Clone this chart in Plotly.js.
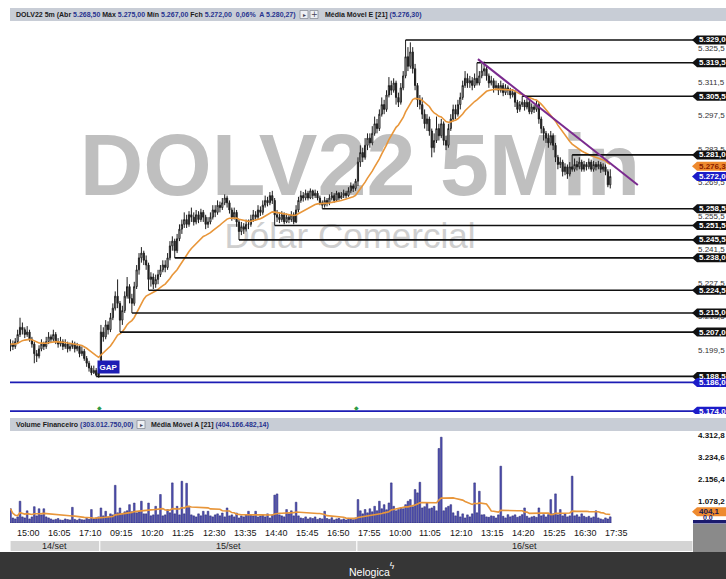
<!DOCTYPE html>
<html><head><meta charset="utf-8">
<script src="https://cdn.plot.ly/plotly-3.0.1.min.js"></script>
<style>html,body{margin:0;padding:0;background:#fff;overflow:hidden}#chart{width:726px;height:579px}</style>
</head><body><div id="chart"></div>
<script>
// ---------- DATA (points, 5-minute bars) ----------
const openP = [
5201,5202,5201,5203,5206,5209,5208,5206,5207,5204,5202,5198,5197,5200,5202,5201,5203,5205,5204,5206,5203,5202,5203,5201,5202,5200,5201,5202,5200,5201,5198,5199,5196,5194,5192,5190,5191,5189,
5193,5207,5205,5210,5208,5213,5217,5222,5219,5212,
5216,5222,5226,5221,5219,5226,5233,5238,5240,5237,
5235,5229,5230,5227,5229,5231,5233,5235,5234,5238,
5243,5245,5241,5246,5250,5252,5254,5252,5256,5255,
5253,5256,5254,5257,5255,5252,5253,5255,5258,5257,
5260,5259,5261,5263,5261,5258,5255,5257,5253,5249,
5251,5250,5252,5252,5254,5256,5255,5258,5257,5260,
5262,5261,5264,5262,5256,5255,5254,5256,5253,5255,
5254,5256,5253,5258,5262,5264,5263,5265,5263,5266,
5264,5265,5263,5261,5260,5262,5261,5263,5264,5262,
5265,5263,5264,5265,5264,5266,5268,5267,
5270,5278,5282,5280,5285,5288,5286,5290,5294,5292,
5298,5302,5300,5306,5310,5308,5311,5305,5303,5309,
5314,5322,5318,5324,5317,5310,5304,5302,5298,5294,
5296,5291,5284,5287,5292,5289,5294,5287,5285,5292,
5296,5300,5298,5302,5305,5310,5313,5311,5312,5310,
5313,5311,5314,5316,5317,5314,5311,5312,5309,5310,
5308,5310,5307,5309,5308,5306,5307,5303,5300,5302,
5303,5301,5303,5299,5301,5300,5302,5296,5292,5290,
5288,5286,5289,5285,5280,5277,5278,5274,5276,5273,
5276,5275,5277,5276,5278,5275,5277,5276,5278,5275,
5277,5276,5277,5275,5276,5274,5268.5];
const highP = [
5204,5203.5,5204.5,5208,5213,5211,5209,5209.5,5208,5205,5203,5199.5,5201.5,5204,5203,5205,5207,5206,5208,5207,5204.5,5205,5204,5204,5203,5202.5,5203.5,5203,5202.5,5201.5,5201,5200,5197,5195,5193,5193,5192,5191.5,
5210,5209,5212,5211.5,5215,5219,5224,5229,5220,5218,
5224,5230,5227,5223,5228,5235,5240,5242.5,5241,5239,
5236,5232,5231.5,5231,5233,5235,5237,5237,5240,5245,
5247,5246,5248,5252,5254,5257,5256,5257.5,5259,5257,
5258,5257.5,5258.5,5258,5256,5255,5257,5260,5260,5262,
5261.5,5263,5264.5,5264,5262,5259,5259,5258,5254,5253,
5252.5,5254,5254,5256,5258,5257.5,5260,5259.5,5262,5264,
5263.5,5265.5,5266,5263,5258,5257,5257.5,5257,5256.5,5256,
5257.5,5257,5260,5263.5,5266,5265.5,5266.5,5266,5267,5266.5,
5266.5,5266,5264,5262,5263.5,5263,5264.5,5265.5,5265,5266,
5265.5,5265.5,5266.5,5266,5267.5,5269.5,5269,5271,
5280,5285,5284,5288,5290,5290,5293,5297,5296,5300,
5305,5304,5308,5313.5,5312,5313,5312,5307,5311,5316,
5329,5326,5328,5326,5319,5311,5306,5305,5300,5298,
5297,5292,5290,5297,5294,5296,5295,5289,5294,5298,
5302,5302,5304,5307,5312,5316,5315,5314,5313.5,5315,
5319.5,5316,5319,5320,5318,5315,5314,5313,5312,5311,
5312,5311,5310.5,5310,5309,5308.5,5308,5304,5303.5,5305.5,
5304,5304.5,5304,5302.5,5302,5303.5,5303,5297,5293,5291,
5290,5291,5290,5286,5281,5280,5279,5277.5,5277,5278,
5281,5279.5,5278.5,5280,5279,5278.5,5278,5279.5,5279,5278.5,
5278,5278.5,5278,5277.5,5277,5275,5275];
const lowP = [
5199,5199.5,5200,5202,5205,5206,5204.5,5205,5203,5200.5,5194,5194.5,5196,5199,5199.5,5200,5202,5202.5,5203,5202,5200.5,5201,5199.5,5200,5198.5,5199,5200,5198.5,5199,5196.5,5197,5195,5192.5,5190.5,5189,5189.5,5188.5,5188.5,
5192,5203,5204,5206,5207,5212,5216,5217,5207,5210,
5215,5221,5219,5215,5218,5225,5231,5236,5235,5233,
5224.5,5226,5225,5225.5,5227,5230,5232,5232,5233,5237,
5241,5238,5240,5245,5248,5250.5,5250.5,5251,5253,5251.5,
5252,5252.5,5253,5253,5250,5250.5,5252,5254,5255,5256,
5257,5258,5260,5259,5256.5,5253.5,5254,5251,5245.5,5247.5,
5248,5249,5250,5251,5253,5253.5,5254,5255.5,5256,5259,
5259.5,5260,5260.5,5251.5,5253,5252.5,5253,5252,5252.5,5252.5,
5253,5252,5252.5,5257,5261,5261.5,5262,5262,5262.5,5262.5,
5263,5262,5260,5258.5,5259,5259.5,5260,5262,5261,5261.5,
5262,5262.5,5263,5263,5263.5,5265,5265.5,5266,
5268,5276,5278,5279,5283,5284,5285,5289,5290,5291,
5297,5298,5299,5305,5306,5307,5302,5301,5302,5308,
5313,5316,5317,5315,5308,5301,5300,5296,5292,5291,
5289,5280,5282,5286,5287,5288,5285,5283,5284,5291,
5295,5296,5297,5300,5304,5309,5309,5309,5308,5309,
5310,5310,5313,5314,5312,5309,5310,5307,5308,5306,
5307,5305.5,5306,5306,5304.5,5305,5301,5298.5,5299,5301,
5299.5,5300,5298,5298,5298.5,5299,5294,5290,5287,5286,
5284,5285,5283,5278,5275,5275.5,5272,5272.5,5271,5272,
5274,5274,5274.5,5275,5274,5274,5274.5,5275,5274,5274,
5274.5,5275,5273.5,5274,5272.5,5267.5,5267];
const closeP = [
5202,5201,5203,5206,5209,5208,5206,5207,5204,5202,5198,5197,5200,5202,5201,5203,5205,5204,5206,5203,5202,5203,5201,5202,5200,5201,5202,5200,5201,5198,5199,5196,5194,5192,5190,5191,5189,5190,
5207,5205,5210,5208,5213,5217,5222,5219,5212,5216,
5222,5226,5221,5219,5226,5233,5238,5240,5237,5235,
5229,5230,5227,5229,5231,5233,5235,5234,5238,5243,
5245,5241,5246,5250,5252,5254,5252,5256,5255,5253,
5256,5254,5257,5255,5252,5253,5255,5258,5257,5260,
5259,5261,5263,5261,5258,5255,5257,5253,5249,5251,
5250,5252,5252,5254,5256,5255,5258,5257,5260,5262,
5261,5264,5262,5256,5255,5254,5256,5253,5255,5254,
5256,5253,5258,5262,5264,5263,5265,5263,5266,5264,
5265,5263,5261,5260,5262,5261,5263,5264,5262,5265,
5263,5264,5265,5264,5266,5268,5267,5270,
5278,5282,5280,5285,5288,5286,5290,5294,5292,5298,
5302,5300,5306,5310,5308,5311,5305,5303,5309,5314,
5322,5318,5324,5317,5310,5304,5302,5298,5294,5296,
5291,5284,5287,5292,5289,5294,5287,5285,5292,5296,
5300,5298,5302,5305,5310,5313,5311,5312,5310,5313,
5311,5314,5316,5317,5314,5311,5312,5309,5310,5308,
5310,5307,5309,5308,5306,5307,5303,5300,5302,5303,
5301,5303,5299,5301,5300,5302,5296,5292,5290,5288,
5286,5289,5285,5280,5277,5278,5274,5276,5273,5276,
5275,5277,5276,5278,5275,5277,5276,5278,5275,5277,
5276,5277,5275,5276,5274,5268.5,5272];
// Volume Financeiro, millions of R$
const volumeM = [
700,250,200,300,1070,300,250,600,200,300,800,350,700,400,700,300,
250,200,150,180,220,150,130,200,170,150,770,180,140,200,160,150,230,180,660,200,
250,300,
740,350,575,300,450,400,1850,500,740,450,550,600,
900,550,980,500,550,1070,450,450,980,350,400,820,400,1400,350,400,660,500,1970,450,820,400,2050,450,1950,820,
400,350,300,450,350,575,400,575,350,300,400,450,350,490,300,740,350,400,300,490,250,350,300,400,575,
400,350,575,300,350,400,300,450,250,400,1370,1430,
400,350,300,660,450,600,350,1020,350,250,220,300,200,260,220,300,180,230,200,575,220,180,260,150,200,230,160,200,150,230,190,160,250,
1150,600,450,660,500,700,550,820,600,1070,
700,900,650,985,1970,820,600,660,750,700,
900,1070,1150,800,1640,1480,2000,740,800,985,
700,740,820,600,3660,4215,600,750,820,900,
500,350,575,300,450,250,400,300,450,1970,
500,1560,400,410,300,280,350,330,250,400,
2790,330,250,410,300,350,400,280,330,410,
740,330,250,300,330,280,740,350,410,300,
410,1150,450,1430,400,660,350,450,300,350,
2300,350,400,300,450,330,280,330,250,300,
600,250,200,165,250,200,303];

const timeTickIdx  = [2,15,28,41,54,67,80,93,106,119,132,145,158,171,184,197,210,223,236,249];
const timeTickText = ['15:00','16:05','17:10','09:15','10:20','11:25','12:30','13:35','14:40','15:45','16:50','17:55','10:00','11:05','12:10','13:15','14:20','15:25','16:30','17:35'];
const dayLabels = ['14/set','15/set','16/set'];
const dayStartIdx = [0,38,146];

const levelPrices = [5329.0,5319.5,5305.5,5281.0,5258.5,5251.5,5245.5,5238.0,5224.5,5215.0,5207.0,5188.5];
const levelStartIdx = [166,196,215,236,131,111,96,69,58,51,46,36];
const blueLevels = [5186.0,5174.0];
const trendX = [196.4,263.6];
const trendY = [5321.0,5268.4];
const priceTicks = [5325.5,5311.5,5297.5,5283.5,5269.5,5255.5,5241.5,5227.5,5213.5,5199.5];
const volTicks = [4312.8,3234.6,2156.4,1078.2];
const maLast = 5276.3, lastPrice = 5272.0, volMaLast = 404.16648214, volLast = 303.01275;

// ---------- helpers ----------
const W = 726, H = 579;
const X = px => px / W;
const Y = py => 1 - py / H;
function fmtBR(v, d){
  const s = v.toFixed(d); const parts = s.split('.');
  const i = parts[0].replace(/\B(?=(\d{3})+(?!\d))/g,'.');
  return parts.length > 1 ? i + ',' + parts[1] : i;
}
const idx = closeP.map((_, i) => i);
// Média Móvel E [21]
const ema = []; const alpha = 2/22;
closeP.forEach((c,i)=>ema.push(i===0 ? c : ema[i-1] + alpha*(c-ema[i-1])));
// Média Móvel A [21]
const volMA = volumeM.map((_,i)=>{const a=volumeM.slice(Math.max(0,i-20),i+1);return a.reduce((p,q)=>p+q,0)/a.length;});

const XR = [-0.21, 286.77];
const YR = [5172.8, 5336.5];
const VR = [0, 4470];
const pxPerPt = (414-22)/(YR[1]-YR[0]);
const pxPerVol = (523-432)/(VR[1]-VR[0]);

const FONT = 'Liberation Sans, Arial, sans-serif';
const BLUE_TXT = '#27338f';

const traces = [
  {type:'candlestick', x:idx, open:openP, high:highP, low:lowP, close:closeP, xaxis:'x', yaxis:'y',
   increasing:{line:{color:'#1e1e1e',width:1}, fillcolor:'#ffffff'},
   decreasing:{line:{color:'#1e1e1e',width:1}, fillcolor:'#1e1e1e'},
   whiskerwidth:0, hoverinfo:'skip', showlegend:false},
  {type:'scatter', mode:'lines', x:idx, y:ema, xaxis:'x', yaxis:'y', line:{color:'#e8963a',width:1.6}, hoverinfo:'skip', showlegend:false},
  {type:'bar', x:idx, y:volumeM, xaxis:'x', yaxis:'y2', width:0.72, marker:{color:'#5252b4', line:{color:'#23236e',width:0.5}}, hoverinfo:'skip', showlegend:false},
  {type:'scatter', mode:'lines', x:idx, y:volMA, xaxis:'x', yaxis:'y2', line:{color:'#e8963a',width:1.6}, hoverinfo:'skip', showlegend:false}
];

const shapes = [];
const ann = [];
const A = o => Object.assign({showarrow:false, xanchor:'center', yanchor:'middle'}, o);

// watermark (below data)
shapes.push({type:'rect', xref:'paper', yref:'paper', x0:X(30), x1:X(690), y0:Y(200), y1:Y(112), line:{width:0}, fillcolor:'rgba(0,0,0,0)', layer:'below',
  label:{text:'DOLV22 5Min', textposition:'middle center', font:{family:FONT, size:88, color:'#bfbfbf', weight:'bold'}}});
shapes.push({type:'rect', xref:'paper', yref:'paper', x0:X(150), x1:X(550), y0:Y(250), y1:Y(214), line:{width:0}, fillcolor:'rgba(0,0,0,0)', layer:'below',
  label:{text:'Dólar Comercial', textposition:'middle center', font:{family:FONT, size:35, color:'#cfcfcf'}}});

// header bars
shapes.push({type:'rect', xref:'paper', yref:'paper', x0:X(10), x1:1, y0:Y(21), y1:Y(8), fillcolor:'#c8cdd6', line:{width:0}});
shapes.push({type:'rect', xref:'paper', yref:'paper', x0:X(10), x1:1, y0:Y(431), y1:Y(418), fillcolor:'#c8cdd6', line:{width:0}});
// small header icons
[[300,308],[310,318]].forEach(([a,b])=>shapes.push({type:'rect', xref:'paper', yref:'paper', x0:X(a), x1:X(b), y0:Y(18.5), y1:Y(10.5), fillcolor:'#eef0f4', line:{color:'#8a8f99',width:0.8}}));
shapes.push({type:'rect', xref:'paper', yref:'paper', x0:X(137), x1:X(145), y0:Y(428.5), y1:Y(420.5), fillcolor:'#eef0f4', line:{color:'#8a8f99',width:0.8}});

// bottom areas
shapes.push({type:'rect', xref:'paper', yref:'paper', x0:0, x1:1, y0:0, y1:Y(552), fillcolor:'#363636', line:{width:0}});
shapes.push({type:'rect', xref:'paper', yref:'paper', x0:X(693), x1:1, y0:Y(552), y1:Y(524), fillcolor:'#8a8a8a', line:{width:0}});
// date band
const dayEnds = dayStartIdx.slice(1).map(v=>v-0.5).concat([XR[1]]);
dayStartIdx.forEach((s,k)=>{
  const x0 = k===0 ? XR[0] : s-0.5, x1 = dayEnds[k];
  shapes.push({type:'rect', xref:'x', yref:'paper', x0:x0+0.25, x1:x1-0.25, y0:Y(551), y1:Y(541), fillcolor:'#d4d4d4', line:{width:0}});
  ann.push(A({xref:'x', yref:'paper', x:(x0+x1)/2, y:Y(546), text:dayLabels[k], font:{family:FONT,size:9,color:'#222'}}));
});
// time labels
timeTickIdx.forEach((t,k)=>ann.push(A({xref:'x', yref:'paper', x:t, y:Y(533), xanchor:'left', text:timeTickText[k], font:{family:FONT,size:9,color:'#151515'}})));

// level lines
levelPrices.forEach((p,k)=>shapes.push({type:'line', xref:'x', yref:'y', x0:levelStartIdx[k], x1:XR[1]+5, y0:p, y1:p, line:{color:'#111',width:1.6}}));
blueLevels.forEach(p=>shapes.push({type:'line', xref:'paper', yref:'y', x0:X(10), x1:X(693), y0:p, y1:p, line:{color:'#1c1cb4',width:1.6}}));
// trendline
shapes.push({type:'line', xref:'x', yref:'y', x0:trendX[0], x1:trendX[1], y0:trendY[0], y1:trendY[1], line:{color:'#7a2a8e',width:2}});
// gap marker
shapes.push({type:'line', xref:'x', yref:'y', x0:dayStartIdx[1]-0.9, x1:dayStartIdx[1]-0.9, y0:levelPrices[11]-0.6, y1:levelPrices[11]+2.4, line:{color:'#111',width:1}});
ann.push(A({xref:'x', yref:'y', x:dayStartIdx[1]-1.6, y:levelPrices[11]+3.9, xanchor:'left', text:'<b>GAP</b>', bgcolor:'#1d1db4', borderpad:1.5, font:{family:FONT,size:8,color:'#fff'}}));
// day separators (green)
dayStartIdx.slice(1).forEach(s=>ann.push(A({xref:'x', yref:'paper', x:s-0.5, y:Y(407), text:'◆', font:{family:'DejaVu Sans',size:6,color:'#2e9a45'}})));

// price tags
function tag(v, yref, halfPx, perPx, bg, txt, txtColor){
  const h = halfPx / perPx;
  shapes.push({type:'path', xref:'paper', yref:yref, path:`M ${X(692)},${v} L ${X(697)},${v+h} L 1,${v+h} L 1,${v-h} L ${X(697)},${v-h} Z`, fillcolor:bg, line:{width:0}, layer:'above'});
  ann.push(A({xref:'paper', yref:yref, x:X(698), y:v, xanchor:'left', text:'<b>'+txt+'</b>', borderpad:0, font:{family:FONT,size:8,color:txtColor}}));
}
levelPrices.forEach(p=>tag(p,'y',4.5,pxPerPt,'#111111',fmtBR(p,1),'#ffffff'));
tag(maLast,'y',4.5,pxPerPt,'#ee8a2e',fmtBR(maLast,1),'#8a1c00');
tag(lastPrice,'y',4.5,pxPerPt,'#1c1cc8',fmtBR(lastPrice,1),'#ffffff');
blueLevels.forEach(p=>tag(p,'y',4.5,pxPerPt,'#1c1cc8',fmtBR(p,1),'#ffffff'));
// volume tags
shapes.push({type:'rect', xref:'paper', yref:'paper', x0:X(693), x1:1, y0:Y(523.5), y1:Y(520), fillcolor:'#1a1a6e', line:{width:0}});
tag(volMaLast+150,'y2',4.5,pxPerVol,'#ee8a2e',fmtBR(Math.floor(volMaLast*10)/10,1),'#1a1a50');
ann.push(A({xref:'paper', yref:'y2', x:X(708), y:0, yanchor:'bottom', text:'<b>0,0</b>', borderpad:0, font:{family:FONT,size:7,color:'#1a1a6e'}}));

// header texts
const b = s => `<span style="color:${BLUE_TXT}">${s}</span>`;
const n = closeP.length-1;
ann.push(A({xref:'paper', yref:'paper', x:X(14), y:Y(14.5), xanchor:'left',
  text:`<b>DOLV22 5m (Abr ${b(fmtBR(openP[n],2))} Máx ${b(fmtBR(highP[n],2))} Mín ${b(fmtBR(lowP[n],2))} Fch ${b(fmtBR(closeP[n],2))}  ${b('0,06%')}  ${b('A 5.280,27)')}</b>`,
  font:{family:FONT,size:7,color:'#1a1a1a'}}));
ann.push(A({xref:'paper', yref:'paper', x:X(304), y:Y(14.5), text:'▸', font:{family:'DejaVu Sans',size:6,color:'#445'}}));
ann.push(A({xref:'paper', yref:'paper', x:X(314), y:Y(14.5), text:'+', font:{family:'DejaVu Sans',size:8,color:'#445'}}));
ann.push(A({xref:'paper', yref:'paper', x:X(323), y:Y(14.5), xanchor:'left',
  text:`<b>Média Móvel E [21] ${b('('+fmtBR(maLast,2)+')')}</b>`, font:{family:FONT,size:7,color:'#1a1a1a'}}));
ann.push(A({xref:'paper', yref:'paper', x:X(14), y:Y(424.5), xanchor:'left',
  text:`<b>Volume Financeiro ${b('('+fmtBR(volLast*1e6,2)+')')}</b>`, font:{family:FONT,size:7,color:'#1a1a1a'}}));
ann.push(A({xref:'paper', yref:'paper', x:X(141), y:Y(424.5), text:'▸', font:{family:'DejaVu Sans',size:6,color:'#445'}}));
ann.push(A({xref:'paper', yref:'paper', x:X(149), y:Y(424.5), xanchor:'left',
  text:`<b>Média Móvel A [21] ${b('('+fmtBR(volMaLast*1e6,2)+')')}</b>`, font:{family:FONT,size:7,color:'#1a1a1a'}}));
// logo
ann.push(A({xref:'paper', yref:'paper', x:X(369), y:Y(572), text:'Nelogica', font:{family:FONT,size:10.5,color:'#ffffff'}}));
ann.push(A({xref:'paper', yref:'paper', x:X(392), y:Y(566), text:'ϟ', font:{family:'DejaVu Sans',size:9,color:'#ffffff'}}));

const layout = {
  width:W, height:H, margin:{l:0,r:0,t:0,b:0}, paper_bgcolor:'#ffffff', plot_bgcolor:'#ffffff',
  showlegend:false, hovermode:false, bargap:0,
  xaxis:{domain:[X(10),X(693)], range:XR, anchor:'y2', showgrid:false, zeroline:false, showline:false, showticklabels:false, ticks:'', rangeslider:{visible:false}, fixedrange:true},
  yaxis:{domain:[Y(414),Y(22)], range:YR, side:'right', anchor:'x', showgrid:false, zeroline:false, showline:false, ticks:'',
    tickvals:priceTicks, ticktext:priceTicks.map(v=>fmtBR(v,1)), tickfont:{family:FONT,size:8,color:'#333'}, ticklabelstandoff:4, fixedrange:true},
  yaxis2:{domain:[Y(523),Y(432)], range:VR, side:'right', anchor:'x', showgrid:false, zeroline:false, showline:false, ticks:'',
    tickvals:volTicks, ticktext:volTicks.map(v=>fmtBR(v,1)), tickfont:{family:FONT,size:8,color:'#111',weight:'bold'}, ticklabelstandoff:4, fixedrange:true},
  shapes:shapes, annotations:ann
};
Plotly.newPlot('chart', traces, layout, {displayModeBar:false, staticPlot:true});
</script></body></html>
